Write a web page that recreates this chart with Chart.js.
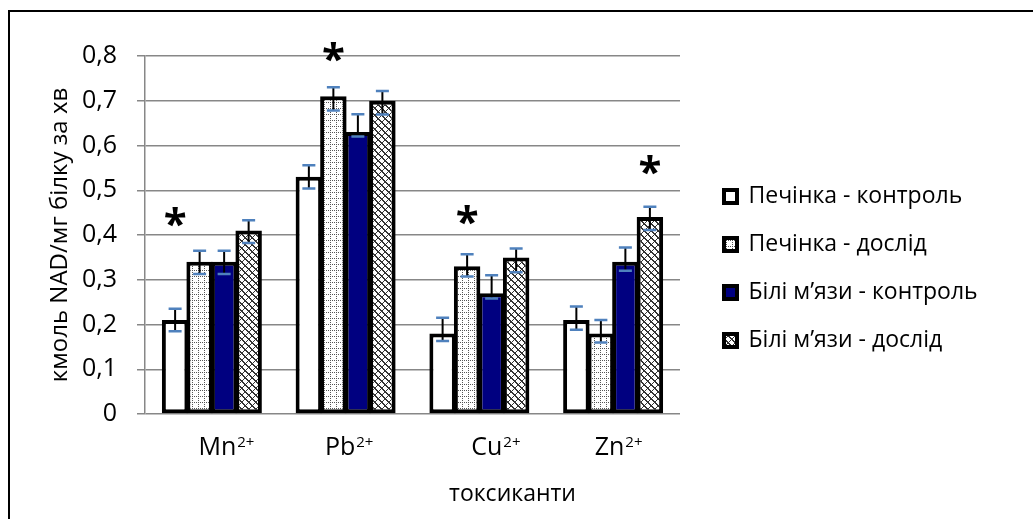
<!DOCTYPE html>
<html>
<head>
<meta charset="utf-8">
<script src="https://cdn.jsdelivr.net/npm/chart.js@4.4.1/dist/chart.umd.min.js"></script>
<style>
  html, body { margin: 0; padding: 0; background: #fff; overflow: hidden; }
  #wrap { position: relative; width: 1033px; height: 519px; }
  #frame { position: absolute; left: 8px; top: 10px; width: 1100px; height: 600px;
           border-top: 2px solid #000; border-left: 2px solid #000; }
  #chart { position: absolute; left: 0; top: 0; }
</style>
</head>
<body>
<div id="wrap">
  <div id="frame"></div>
  <canvas id="chart" width="1033" height="519"></canvas>
</div>
<script>
// toxicants (x categories) and their ion charge shown as superscript
const categories = ['Mn', 'Pb', 'Cu', 'Zn'];
const charges = ['2+', '2+', '2+', '2+'];

const seriesNames = ['Печінка - контроль', 'Печінка - дослід', 'Білі м’язи - контроль', 'Білі м’язи - дослід'];

// activity, кмоль NAD/мг білку за хв
const liverControl = [0.21, 0.53, 0.18, 0.21];
const liverExp     = [0.34, 0.71, 0.33, 0.18];
const muscleControl = [0.34, 0.63, 0.27, 0.34];
const muscleExp    = [0.41, 0.70, 0.35, 0.44];

// error bars (upper / lower part)
const liverControlUp = [0.025, 0.026, 0.035, 0.030];
const liverControlDown = [0.025, 0.026, 0.017, 0.022];
const liverExpUp = [0.025, 0.020, 0.027, 0.030];
const liverExpDown = [0.027, 0.032, 0.023, 0.020];
const muscleControlUp = [0.025, 0.040, 0.040, 0.032];
const muscleControlDown = [0.027, 0.010, 0.012, 0.020];
const muscleExpUp = [0.023, 0.022, 0.020, 0.023];
const muscleExpDown = [0.028, 0.031, 0.033, 0.029];

// significance marks: which series, which toxicant, at what level
const starSeries = [0, 1, 1, 3];
const starCategory = [0, 1, 2, 3];
const starLevel = [0.44, 0.81, 0.445, 0.557];

const yTickLabels = ['0', '0,1', '0,2', '0,3', '0,4', '0,5', '0,6', '0,7', '0,8'];
const yTitle = 'кмоль NAD/мг білку за хв';
const xTitle = 'токсиканти';

// manual nudges of the text boxes, like in the original
const labelShift = [14, 3, 16, 5];
const xTitleShift = 100;

const FONT = '"Open Sans", "Noto Sans", sans-serif';
Chart.defaults.font.family = FONT;
Chart.defaults.color = '#000';

const ctx = document.getElementById('chart').getContext('2d');

function makePattern(size, draw) {
  const c = document.createElement('canvas');
  c.width = size; c.height = size;
  const g = c.getContext('2d');
  g.fillStyle = '#fff';
  g.fillRect(0, 0, size, size);
  draw(g, size);
  return ctx.createPattern(c, 'repeat');
}

// white with dotted grid
const dottedGrid = makePattern(6, (g, n) => {
  g.fillStyle = '#555';
  for (let i = 0; i < n; i += 2) {
    g.fillRect(i, 0, 1, 1);
    g.fillRect(0, i, 1, 1);
  }
});

// diagonal cross-hatch
const crossHatch = makePattern(7, (g, n) => {
  g.fillStyle = '#333';
  for (let i = 0; i < n; i++) {
    g.fillRect(i, i, 1, 1);
    g.fillRect((i + 1) % n, i, 1, 1);
    g.fillRect(n - 1 - i, i, 1, 1);
  }
});

const errUp = [liverControlUp, liverExpUp, muscleControlUp, muscleExpUp];
const errDown = [liverControlDown, liverExpDown, muscleControlDown, muscleExpDown];

const errorBars = {
  id: 'errorBars',
  afterDatasetsDraw(chart) {
    const y = chart.scales.y;
    const c = chart.ctx;
    c.save();
    chart.data.datasets.forEach((ds, i) => {
      chart.getDatasetMeta(i).data.forEach((bar, j) => {
        const v = ds.data[j];
        const top = y.getPixelForValue(v + errUp[i][j]);
        const bot = y.getPixelForValue(v - errDown[i][j]);
        c.strokeStyle = '#000';
        c.lineWidth = 2;
        c.beginPath();
        c.moveTo(bar.x, top);
        c.lineTo(bar.x, bot);
        c.stroke();
        c.strokeStyle = '#4f81bd';
        c.lineWidth = 2.5;
        c.beginPath();
        c.moveTo(bar.x - 6.5, top); c.lineTo(bar.x + 6.5, top);
        c.moveTo(bar.x - 6.5, bot); c.lineTo(bar.x + 6.5, bot);
        c.stroke();
      });
    });
    c.restore();
  }
};

const stars = {
  id: 'stars',
  afterDatasetsDraw(chart) {
    const y = chart.scales.y;
    const c = chart.ctx;
    c.save();
    c.font = 'bold 42px ' + FONT;
    c.fillStyle = '#000';
    c.textAlign = 'center';
    c.textBaseline = 'alphabetic';
    const m = c.measureText('*');
    const shift = (m.actualBoundingBoxAscent - m.actualBoundingBoxDescent) / 2;
    starSeries.forEach((s, k) => {
      const bar = chart.getDatasetMeta(s).data[starCategory[k]];
      c.fillText('*', bar.x, y.getPixelForValue(starLevel[k]) + shift);
    });
    c.restore();
  }
};

// toxicant labels with superscript charge, and the axis title
const xLabels = {
  id: 'xLabels',
  afterDraw(chart) {
    const x = chart.scales.x;
    const area = chart.chartArea;
    const c = chart.ctx;
    c.save();
    c.fillStyle = '#000';
    c.textBaseline = 'alphabetic';
    c.textAlign = 'left';
    categories.forEach((name, i) => {
      c.font = '25px ' + FONT;
      const w1 = c.measureText(name).width;
      c.font = '15px ' + FONT;
      const w2 = c.measureText(charges[i]).width;
      const left = x.getPixelForValue(i) + labelShift[i] - (w1 + w2) / 2;
      c.font = '25px ' + FONT;
      c.fillText(name, left, x.top + 41);
      c.font = '15px ' + FONT;
      c.fillText(charges[i], left + w1 + 1, x.top + 33);
    });
    c.font = '23px ' + FONT;
    c.textAlign = 'center';
    c.textBaseline = 'middle';
    c.fillText(xTitle, (area.left + area.right) / 2 + xTitleShift, x.top + 80);
    c.restore();
  }
};

// keep the legend at a fixed width and height position, as in the original
const legendPlace = {
  id: 'legendPlace',
  afterInit(chart) {
    const lg = chart.legend;
    const fit = lg.fit;
    lg.fit = function () { fit.call(this); this.width = 334; };
  },
  afterLayout(chart) {
    chart.legend.top -= 19;
    chart.legend.bottom -= 19;
  }
};

const barStyle = {
  borderColor: '#000',
  borderWidth: 4,
  borderSkipped: false,
  categoryPercentage: 0.733,
  barPercentage: 1.08
};

new Chart(ctx, {
  type: 'bar',
  data: {
    labels: categories,
    datasets: [
      { label: seriesNames[0], data: liverControl, backgroundColor: '#fff', ...barStyle },
      { label: seriesNames[1], data: liverExp, backgroundColor: dottedGrid, ...barStyle },
      { label: seriesNames[2], data: muscleControl, backgroundColor: '#000080', ...barStyle },
      { label: seriesNames[3], data: muscleExp, backgroundColor: crossHatch, ...barStyle }
    ]
  },
  options: {
    responsive: false,
    animation: false,
    layout: { padding: { left: 0, top: 56, right: 0, bottom: 0 } },
    plugins: {
      tooltip: { enabled: false },
      legend: {
        position: 'right',
        labels: {
          font: { size: 23 },
          color: '#000',
          boxWidth: 13,
          boxHeight: 13,
          padding: 25,
          generateLabels(chart) {
            const items = Chart.defaults.plugins.legend.labels.generateLabels(chart);
            items.forEach(it => { it.lineWidth = 4; it.strokeStyle = '#000'; });
            return items;
          }
        }
      }
    },
    scales: {
      x: {
        grid: { display: false },
        border: { display: false },
        ticks: { display: false },
        afterFit(s) { s.height = 105; }
      },
      y: {
        min: 0,
        max: 0.8,
        ticks: {
          stepSize: 0.1,
          padding: 20,
          color: '#000',
          font: { size: 25 },
          callback: (v, i) => yTickLabels[i]
        },
        grid: { color: '#878787', lineWidth: 1.5, tickLength: 8 },
        border: { color: '#878787', width: 1.5 },
        title: { display: true, text: yTitle, font: { size: 24 }, color: '#000', padding: { top: 46, bottom: 46 } },
        afterFit(s) { s.width = 145; }
      },
      gap: {
        type: 'linear',
        position: 'right',
        display: true,
        grid: { display: false },
        border: { display: false },
        ticks: { display: false },
        afterFit(s) { s.width = 19; }
      }
    }
  },
  plugins: [legendPlace, errorBars, stars, xLabels]
});
</script>
</body>
</html>
